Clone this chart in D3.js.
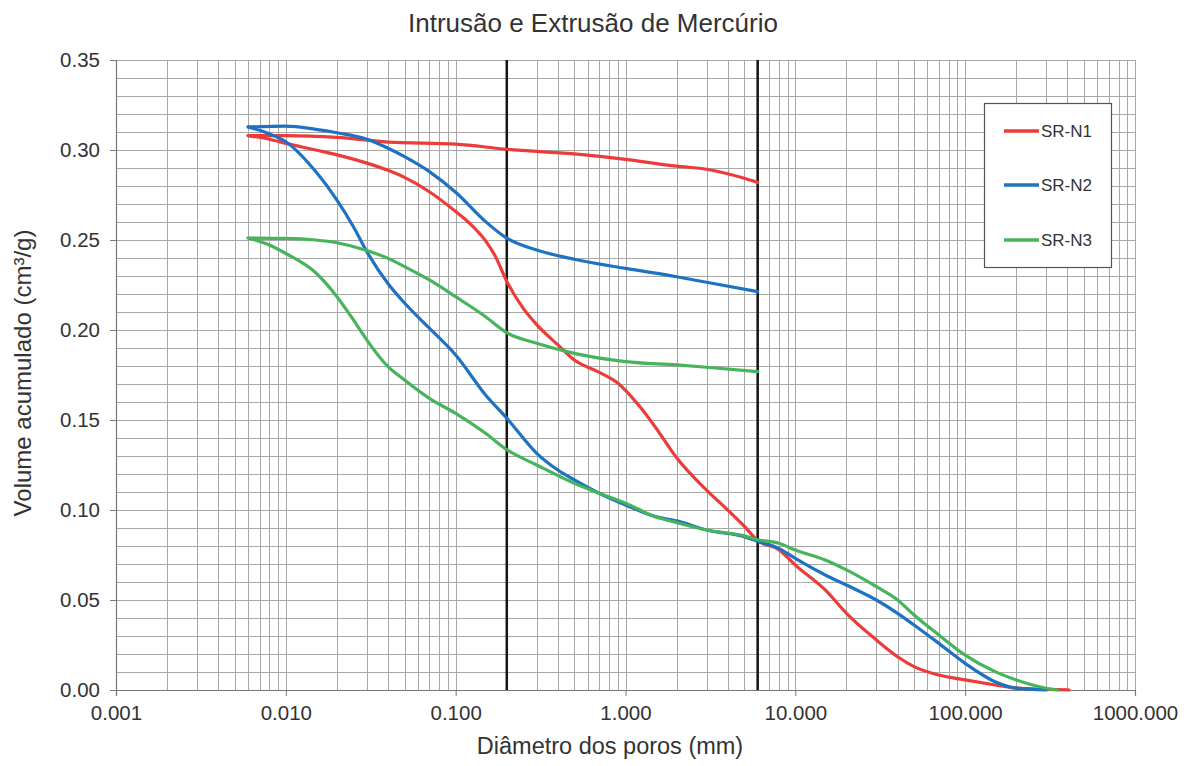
<!DOCTYPE html>
<html>
<head>
<meta charset="utf-8">
<script src="https://cdn.jsdelivr.net/npm/d3@7"></script>
<style>
  html, body { margin: 0; padding: 0; background: #fff; }
  svg { display: block; }
  text { font-family: "Liberation Sans", Arial, sans-serif; fill: #333; }
</style>
</head>
<body>
<svg id="chart" width="1187" height="766"></svg>
<script>
// ---- Data ----
const seriesNames = ["SR-N1", "SR-N2", "SR-N3"];
const seriesColors = ["#ec3c3a", "#1e72c3", "#45b45a"];

const xTickValues = [0.001, 0.01, 0.1, 1, 10, 100, 1000];
const yTickValues = [0, 0.05, 0.10, 0.15, 0.20, 0.25, 0.30, 0.35];
const markerDiameters = [0.2, 6];

// SR-N1
const srn1IntrD = [0.006, 0.008, 0.01, 0.015, 0.02, 0.03, 0.04, 0.05, 0.07, 0.1, 0.12, 0.15, 0.17, 0.2, 0.25, 0.3, 0.4, 0.5, 0.7, 0.9, 1, 1.2, 1.5, 2, 3, 4, 5, 6, 8, 10, 15, 20, 30, 40, 50, 70, 100, 150, 200, 300, 410];
const srn1IntrV = [0.308, 0.306, 0.3037, 0.3, 0.2973, 0.2927, 0.2887, 0.2848, 0.2768, 0.2658, 0.2595, 0.2495, 0.2415, 0.227, 0.212, 0.203, 0.1917, 0.1833, 0.1765, 0.1705, 0.1665, 0.158, 0.146, 0.129, 0.111, 0.1, 0.091, 0.083, 0.078, 0.0694, 0.0556, 0.0426, 0.0278, 0.0185, 0.013, 0.0083, 0.0056, 0.0028, 0.001, 0.0003, 0.0];
const srn1ExtrD = [0.006, 0.01, 0.02, 0.04, 0.1, 0.2, 0.5, 1, 2, 3, 5, 6];
const srn1ExtrV = [0.308, 0.308, 0.307, 0.3044, 0.3033, 0.3004, 0.2978, 0.2948, 0.291, 0.2893, 0.2843, 0.282];

// SR-N2
const srn2IntrD = [0.006, 0.008, 0.01, 0.015, 0.02, 0.025, 0.03, 0.04, 0.05, 0.07, 0.1, 0.15, 0.2, 0.3, 0.4, 0.5, 0.7, 1, 1.5, 2, 3, 5, 6, 8, 10, 15, 20, 30, 40, 50, 70, 100, 150, 200, 300];
const srn2IntrV = [0.3128, 0.309, 0.3046, 0.288, 0.2722, 0.2574, 0.2435, 0.2257, 0.215, 0.201, 0.1861, 0.1639, 0.151, 0.1315, 0.1222, 0.1167, 0.1093, 0.1028, 0.0963, 0.094, 0.0889, 0.0852, 0.0826, 0.0787, 0.0731, 0.0639, 0.0583, 0.05, 0.0426, 0.0361, 0.0259, 0.0148, 0.0046, 0.001, 0.0];
const srn2ExtrD = [0.006, 0.01, 0.015, 0.02, 0.03, 0.04, 0.05, 0.07, 0.1, 0.15, 0.2, 0.3, 0.5, 1, 2, 3, 6];
const srn2ExtrV = [0.3128, 0.3133, 0.3115, 0.3096, 0.306, 0.301, 0.2963, 0.288, 0.2765, 0.2602, 0.251, 0.2444, 0.2393, 0.2342, 0.2296, 0.2265, 0.2213];

// SR-N3
const srn3IntrD = [0.006, 0.008, 0.01, 0.015, 0.02, 0.025, 0.03, 0.04, 0.05, 0.07, 0.1, 0.15, 0.2, 0.3, 0.5, 0.7, 1, 1.5, 2, 3, 5, 6, 8, 10, 15, 20, 30, 40, 50, 70, 100, 150, 200, 300, 350];
const srn3IntrV = [0.2511, 0.2472, 0.2425, 0.2318, 0.2185, 0.2056, 0.1944, 0.1796, 0.1722, 0.162, 0.1537, 0.1426, 0.1335, 0.125, 0.1148, 0.1093, 0.1037, 0.0963, 0.093, 0.0889, 0.0856, 0.0835, 0.0815, 0.0778, 0.0722, 0.0667, 0.0574, 0.05, 0.0417, 0.0306, 0.0194, 0.0102, 0.0056, 0.001, 0.0];
const srn3ExtrD = [0.006, 0.01, 0.015, 0.02, 0.03, 0.04, 0.05, 0.07, 0.1, 0.15, 0.2, 0.3, 0.5, 1, 2, 3, 6];
const srn3ExtrV = [0.2511, 0.2509, 0.25, 0.2485, 0.2442, 0.2398, 0.2352, 0.2278, 0.2185, 0.2074, 0.1985, 0.1926, 0.187, 0.1824, 0.1806, 0.1793, 0.1769];

const curves = [
  { s: 0, d: srn1IntrD, v: srn1IntrV }, { s: 0, d: srn1ExtrD, v: srn1ExtrV },
  { s: 1, d: srn2IntrD, v: srn2IntrV }, { s: 1, d: srn2ExtrD, v: srn2ExtrV },
  { s: 2, d: srn3IntrD, v: srn3IntrV }, { s: 2, d: srn3ExtrD, v: srn3ExtrV }
];

// ---- Layout ----
const svg = d3.select("#chart");
const L = 116, R = 1135, T = 60, B = 690;

const x = d3.scaleLog().domain([0.001, 1000]).range([L, R]);
const y = d3.scaleLinear().domain([0, 0.35]).range([B, T]);

// grid
const grid = svg.append("g");
const yMinor = d3.range(0, 36).map(i => i / 100);
grid.selectAll("line.h").data(yMinor).enter().append("line")
  .attr("x1", L).attr("x2", R)
  .attr("y1", d => Math.round(y(d)) + 0.5).attr("y2", d => Math.round(y(d)) + 0.5)
  .attr("stroke", "#a8a8a8").attr("stroke-width", 1);
const xMinor = [];
for (let e = -3; e < 3; e++) for (let k = 1; k <= 9; k++) xMinor.push(k * Math.pow(10, e));
xMinor.push(1000);
grid.selectAll("line.v").data(xMinor).enter().append("line")
  .attr("y1", T).attr("y2", B)
  .attr("x1", d => Math.round(x(d)) + 0.5).attr("x2", d => Math.round(x(d)) + 0.5)
  .attr("stroke", "#a8a8a8").attr("stroke-width", 1);

// axes
const yAxis = d3.axisLeft(y).tickValues(yTickValues).tickFormat(d3.format(".2f")).tickSize(6).tickPadding(10);
const xAxis = d3.axisBottom(x).tickValues(xTickValues).tickFormat(d3.format(".3f")).tickSize(6).tickPadding(9);
const gy = svg.append("g").attr("transform", `translate(${L},0)`).call(yAxis);
const gx = svg.append("g").attr("transform", `translate(0,${B})`).call(xAxis);
[gx, gy].forEach(g => {
  g.select(".domain").attr("stroke", "#777").attr("stroke-width", 1.2);
  g.selectAll(".tick line").attr("stroke", "#777");
  g.selectAll(".tick text").attr("font-size", 20.5).attr("fill", "#333")
    .style("font-family", "'Liberation Sans', Arial, sans-serif");
});

// marker lines
svg.selectAll("line.marker").data(markerDiameters).enter().append("line")
  .attr("x1", d => x(d)).attr("x2", d => x(d)).attr("y1", T).attr("y2", B)
  .attr("stroke", "#151515").attr("stroke-width", 2.5);

// curves
const line = d3.line().x(p => x(p[0])).y(p => y(p[1])).curve(d3.curveMonotoneX);
svg.append("g").selectAll("path").data(curves).enter().append("path")
  .attr("d", c => line(c.d.map((dd, i) => [dd, c.v[i]])))
  .attr("fill", "none")
  .attr("stroke", c => seriesColors[c.s])
  .attr("stroke-width", 3.2)
  .attr("stroke-linejoin", "round").attr("stroke-linecap", "round");

// legend
const lg = svg.append("g");
lg.append("rect").attr("x", 984.5).attr("y", 103.5).attr("width", 127).attr("height", 164)
  .attr("fill", "#fff").attr("stroke", "#555").attr("stroke-width", 1.2);
const legRows = [131, 185, 240];
seriesNames.forEach((n, i) => {
  lg.append("line").attr("x1", 1004).attr("x2", 1039).attr("y1", legRows[i]).attr("y2", legRows[i])
    .attr("stroke", seriesColors[i]).attr("stroke-width", 3.5);
  lg.append("text").attr("x", 1041).attr("y", legRows[i] + 6).attr("font-size", 17).text(n);
});

// titles
svg.append("text").attr("x", 593).attr("y", 32).attr("text-anchor", "middle")
  .attr("font-size", 26).text("Intrusão e Extrusão de Mercúrio");
svg.append("text").attr("x", 610).attr("y", 754).attr("text-anchor", "middle")
  .attr("font-size", 23.5).text("Diâmetro dos poros (mm)");
svg.append("text").attr("transform", "translate(31,373) rotate(-90)").attr("text-anchor", "middle")
  .attr("font-size", 24).text("Volume acumulado (cm³/g)");
</script>
</body>
</html>
